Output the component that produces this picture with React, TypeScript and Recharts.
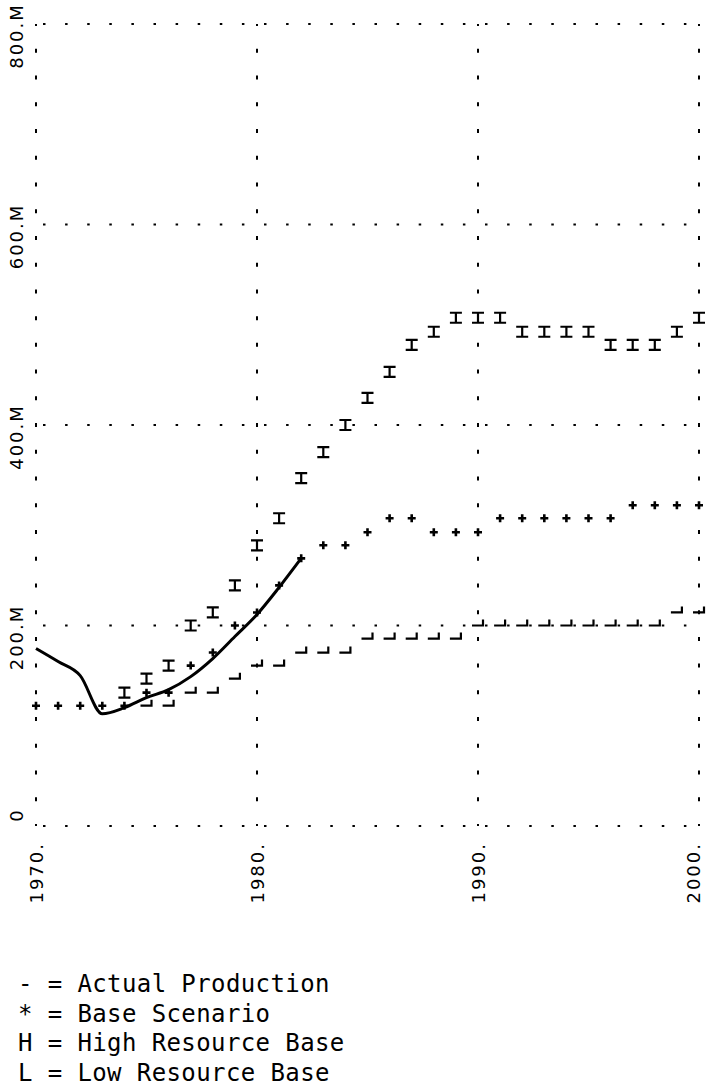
import { ComposedChart, Line, XAxis, YAxis, ReferenceLine } from "recharts";

// years on the x axis
const years = [
  1970, 1971, 1972, 1973, 1974, 1975, 1976, 1977, 1978, 1979, 1980, 1981, 1982, 1983, 1984, 1985,
  1986, 1987, 1988, 1989, 1990, 1991, 1992, 1993, 1994, 1995, 1996, 1997, 1998, 1999, 2000,
];

// actual production, 1970-1982
const actualProduction = [177, 164, 150, 112, 118, 128, 136, 149, 167, 189, 211, 238, 267];

// '*' base scenario
const baseScenario = [
  120, 120, 120, 120, 120, 133, 133, 160, 173, 200, 213, 240, 267, 280, 280, 293,
  307, 307, 293, 293, 293, 307, 307, 307, 307, 307, 307, 320, 320, 320, 320,
];

// 'H' high resource base
const highResource = [
  null, null, null, null, 133, 147, 160, 200, 213, 240, 280, 307, 347, 373, 400, 427,
  453, 480, 493, 507, 507, 507, 493, 493, 493, 493, 480, 480, 480, 493, 507,
];

// 'L' low resource base
const lowResource = [
  null, null, null, null, null, 120, 120, 133, 133, 147, 160, 160, 173, 173, 173, 187,
  187, 187, 187, 187, 200, 200, 200, 200, 200, 200, 200, 200, 200, 213, 213,
];

const xTicks = [1970, 1980, 1990, 2000];
const yTicks = [0, 200, 400, 600, 800];

const legendLines = [
  "- = Actual Production",
  "* = Base Scenario",
  "H = High Resource Base",
  "L = Low Resource Base",
];

const data = years.map((year, i) => ({
  year,
  actual: i < actualProduction.length ? actualProduction[i] : null,
  base: baseScenario[i],
  high: highResource[i],
  low: lowResource[i],
}));

const PLOT_BOTTOM = 826;
const labelFont = { fontFamily: "DejaVu Sans", fontSize: 18, letterSpacing: 2, fill: "#000" };

function YTick(props: any) {
  const { y, payload } = props;
  const v = payload.value;
  const label = v === 0 ? "0" : `${v}.M`;
  const cy = v === 0 ? y - 11 : y + 12;
  return (
    <text
      x={16}
      y={cy}
      transform={`rotate(-90 16 ${cy})`}
      textAnchor="middle"
      dominantBaseline="central"
      {...labelFont}
    >
      {label}
    </text>
  );
}

function XTick(props: any) {
  const { x, payload } = props;
  const ty = PLOT_BOTTOM + 16;
  return (
    <text
      x={x}
      y={ty}
      transform={`rotate(-90 ${x} ${ty})`}
      textAnchor="end"
      dominantBaseline="central"
      {...labelFont}
    >
      {`${payload.value}.`}
    </text>
  );
}

// line-printer style glyphs (rotated H, L and +)
function HMark(props: any) {
  const { cx, cy, value } = props;
  if (value == null || cx == null || cy == null) return <g key={props.index} />;
  return (
    <path
      key={props.index}
      d={`M${cx - 6},${cy - 5}h12M${cx - 6},${cy + 5}h12M${cx},${cy - 5}v10`}
      stroke="#000"
      strokeWidth={2.2}
      fill="none"
    />
  );
}

function LMark(props: any) {
  const { cx, cy, value } = props;
  if (value == null || cx == null || cy == null) return <g key={props.index} />;
  return (
    <path
      key={props.index}
      d={`M${cx - 6},${cy}h11v-6`}
      stroke="#000"
      strokeWidth={2.2}
      fill="none"
    />
  );
}

function PlusMark(props: any) {
  const { cx, cy, value } = props;
  if (value == null || cx == null || cy == null) return <g key={props.index} />;
  return (
    <path
      key={props.index}
      d={`M${cx - 4},${cy}h8M${cx},${cy - 4}v8`}
      stroke="#000"
      strokeWidth={2.6}
      fill="none"
    />
  );
}

export default function App() {
  return (
    <div style={{ position: "absolute", left: 0, top: 0, width: 709, height: 1092, background: "#fff" }}>
      <ComposedChart
        width={709}
        height={960}
        data={data}
        margin={{ top: 24, right: 10, bottom: 24, left: 0 }}
      >
        <XAxis
          dataKey="year"
          type="number"
          domain={[1970, 2000]}
          ticks={xTicks}
          axisLine={false}
          tickLine={false}
          height={110}
          tick={<XTick />}
        />
        <YAxis
          type="number"
          domain={[0, 800]}
          ticks={yTicks}
          axisLine={false}
          tickLine={false}
          width={36}
          tick={<YTick />}
        />
        {/* dotted grid, printed style */}
        {yTicks.map((v) => (
          <ReferenceLine
            key={`h${v}`}
            y={v}
            stroke="#000"
            strokeWidth={2}
            strokeDasharray="0 7 2.5 12.6"
          />
        ))}
        {xTicks.map((v) => (
          <ReferenceLine
            key={`v${v}`}
            x={v}
            stroke="#000"
            strokeWidth={2}
            strokeDasharray="2 22.73 2 0"
          />
        ))}
        <Line
          dataKey="low"
          stroke="none"
          dot={<LMark />}
          activeDot={false}
          isAnimationActive={false}
        />
        <Line
          dataKey="high"
          stroke="none"
          dot={<HMark />}
          activeDot={false}
          isAnimationActive={false}
        />
        <Line
          dataKey="base"
          stroke="none"
          dot={<PlusMark />}
          activeDot={false}
          isAnimationActive={false}
        />
        <Line
          dataKey="actual"
          type="monotone"
          stroke="#000"
          strokeWidth={3}
          dot={false}
          activeDot={false}
          isAnimationActive={false}
        />
      </ComposedChart>
      <div
        style={{
          position: "absolute",
          left: 18,
          top: 970,
          fontFamily: "DejaVu Sans Mono",
          fontSize: 24,
          letterSpacing: 0.4,
          lineHeight: "29.5px",
          whiteSpace: "pre",
          color: "#000",
        }}
      >
        {legendLines.map((t) => (
          <div key={t}>{t}</div>
        ))}
      </div>
    </div>
  );
}
